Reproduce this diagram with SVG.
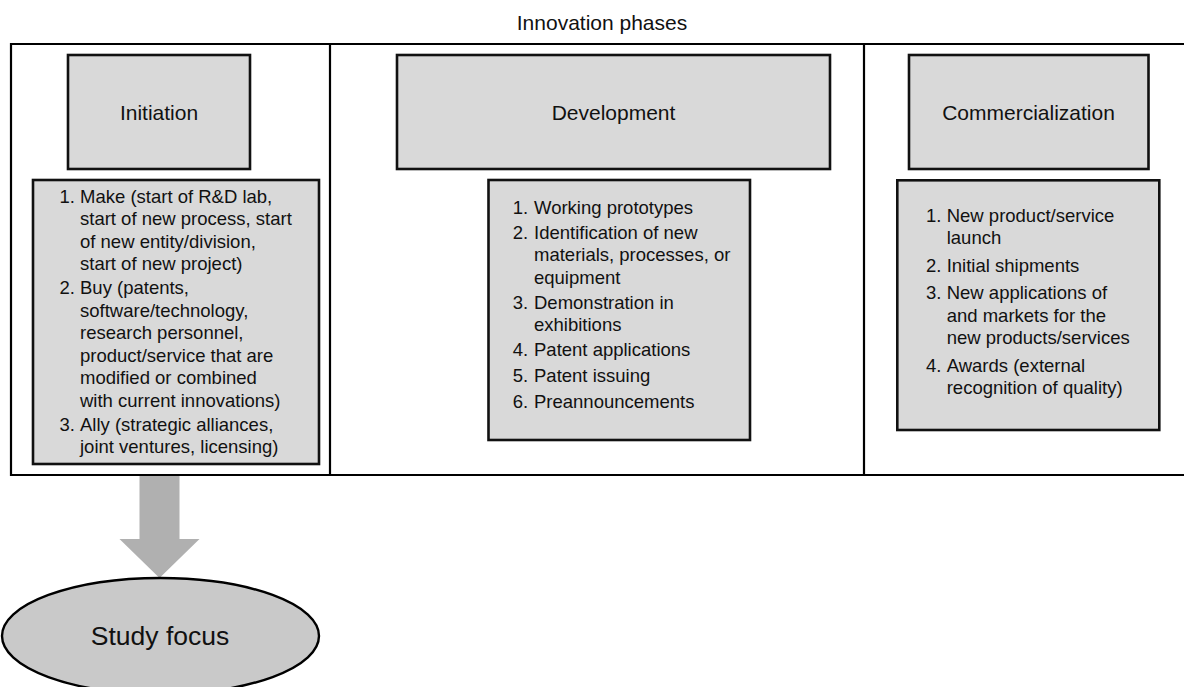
<svg xmlns="http://www.w3.org/2000/svg" width="1184" height="687" viewBox="0 0 1184 687">
<style>
text{font-family:"Liberation Sans",Arial,Helvetica,sans-serif;fill:#111}
.frame{fill:none;stroke:#000;stroke-width:2.2}
.box{fill:#d9d9d9;stroke:#111;stroke-width:2.6}
.title{font-size:21px;text-anchor:middle}
.li{font-size:18.5px}
.num{font-size:18.5px}
</style>
<rect width="1184" height="687" fill="#fff"/>
<g id="frame">
<text class="title" x="602" y="29.5">Innovation phases</text>
<line class="frame" x1="11" y1="44" x2="1184" y2="44"/>
<line class="frame" x1="11" y1="475" x2="1184" y2="475"/>
<line class="frame" x1="11" y1="43" x2="11" y2="476"/>
<line class="frame" x1="330" y1="44" x2="330" y2="475"/>
<line class="frame" x1="864" y1="44" x2="864" y2="475"/>
</g>
<g id="connectors">
<polygon points="139.5,476 179.5,476 179.5,539 199.5,539 159.5,578 119.5,539 139.5,539" fill="#b0b0b0"/>
</g>
<g id="initiation">
<rect class="box" x="68" y="55" width="182" height="114"/>
<text class="title" x="159" y="119.5">Initiation</text>
</g>
<g id="initiation-list">
<rect class="box" x="33" y="180" width="286" height="284"/>
<text class="num" x="59.5" y="202.5">1.</text>
<text class="li" x="80" y="202.5">Make (start of R&amp;D lab,</text>
<text class="li" x="80" y="225">start of new process, start</text>
<text class="li" x="80" y="247.5">of new entity/division,</text>
<text class="li" x="80" y="270">start of new project)</text>
<text class="num" x="59.5" y="294">2.</text>
<text class="li" x="80" y="294">Buy (patents,</text>
<text class="li" x="80" y="316.5">software/technology,</text>
<text class="li" x="80" y="339">research personnel,</text>
<text class="li" x="80" y="361.5">product/service that are</text>
<text class="li" x="80" y="384">modified or combined</text>
<text class="li" x="80" y="406.5">with current innovations)</text>
<text class="num" x="59.5" y="430.5">3.</text>
<text class="li" x="80" y="430.5">Ally (strategic alliances,</text>
<text class="li" x="80" y="453">joint ventures, licensing)</text>
</g>
<g id="development">
<rect class="box" x="397" y="55" width="433" height="114"/>
<text class="title" x="613.5" y="119.5">Development</text>
</g>
<g id="development-list">
<rect class="box" x="488.5" y="180" width="261.5" height="260"/>
<text class="num" x="512.8" y="214">1.</text>
<text class="li" x="534" y="214">Working prototypes</text>
<text class="num" x="512.8" y="238.5">2.</text>
<text class="li" x="534" y="238.5">Identification of new</text>
<text class="li" x="534" y="261">materials, processes, or</text>
<text class="li" x="534" y="283.5">equipment</text>
<text class="num" x="512.8" y="308.5">3.</text>
<text class="li" x="534" y="308.5">Demonstration in</text>
<text class="li" x="534" y="331">exhibitions</text>
<text class="num" x="512.8" y="356">4.</text>
<text class="li" x="534" y="356">Patent applications</text>
<text class="num" x="512.8" y="381.5">5.</text>
<text class="li" x="534" y="381.5">Patent issuing</text>
<text class="num" x="512.8" y="408">6.</text>
<text class="li" x="534" y="408">Preannouncements</text>
</g>
<g id="commercialization">
<rect class="box" x="909" y="55" width="239.5" height="114"/>
<text class="title" x="1028.5" y="119.5">Commercialization</text>
</g>
<g id="commercialization-list">
<rect class="box" x="897.3" y="180.3" width="262" height="249.7"/>
<text class="num" x="926" y="221.5">1.</text>
<text class="li" x="946.7" y="221.5">New product/service</text>
<text class="li" x="946.7" y="244">launch</text>
<text class="num" x="926" y="271.5">2.</text>
<text class="li" x="946.7" y="271.5">Initial shipments</text>
<text class="num" x="926" y="299">3.</text>
<text class="li" x="946.7" y="299">New applications of</text>
<text class="li" x="946.7" y="321.5">and markets for the</text>
<text class="li" x="946.7" y="344">new products/services</text>
<text class="num" x="926" y="371.5">4.</text>
<text class="li" x="946.7" y="371.5">Awards (external</text>
<text class="li" x="946.7" y="394">recognition of quality)</text>
</g>
<g id="study-focus">
<ellipse cx="160.5" cy="636" rx="158.5" ry="58" fill="#c9c9c9" stroke="#000" stroke-width="2.4"/>
<text x="160" y="644.5" font-size="26.5" text-anchor="middle">Study focus</text>
</g>
</svg>
